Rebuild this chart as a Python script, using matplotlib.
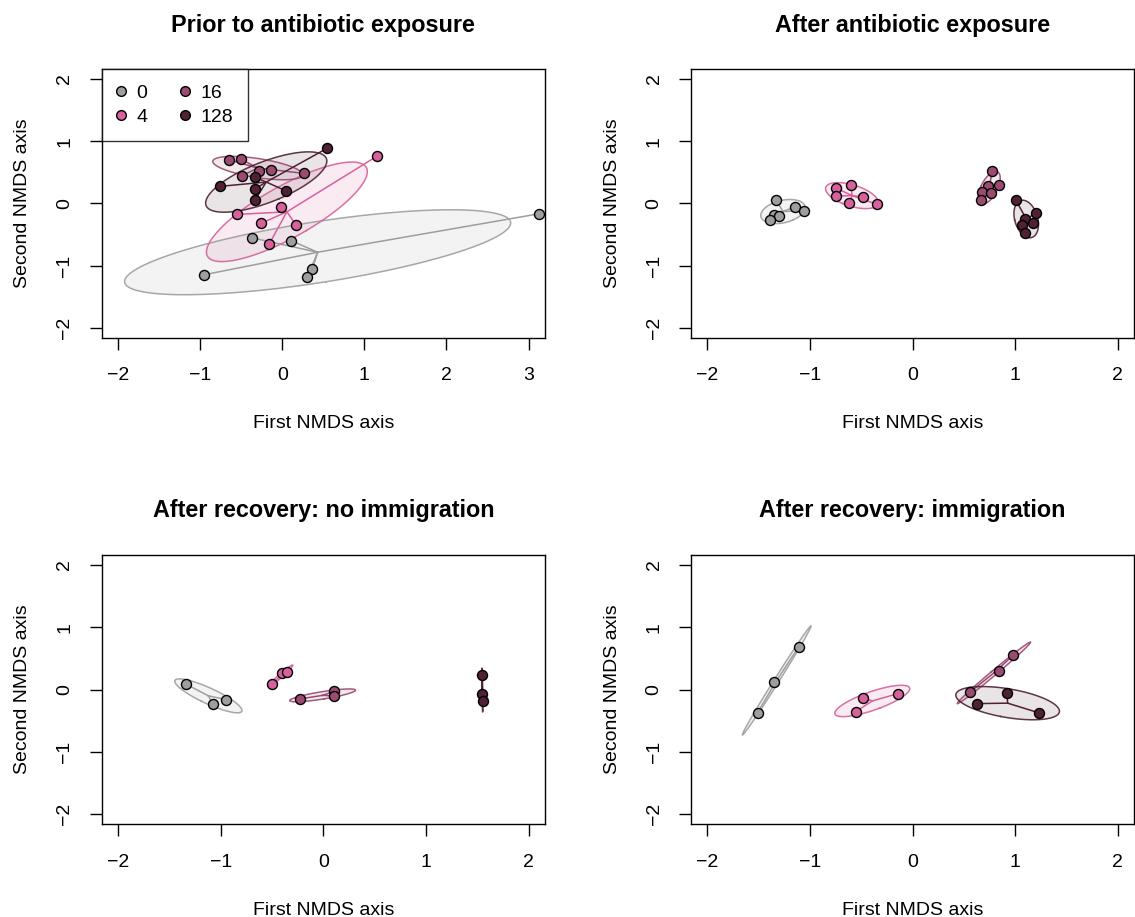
import numpy as np
import matplotlib
matplotlib.use('Agg')
import matplotlib.pyplot as plt
from matplotlib.lines import Line2D

plt.rcParams['font.family'] = ['Liberation Sans', 'DejaVu Sans']

groups = ['0', '4', '16', '128']
colors = ['#9e9e9e', '#d6619c', '#9b4a72', '#4e2134']

titles = ['Prior to antibiotic exposure', 'After antibiotic exposure',
          'After recovery: no immigration', 'After recovery: immigration']

# NMDS scores per group (0, 4, 16, 128)
prior_x = [[3.13, -0.954, -0.373, 0.11, 0.365, 0.305],
           [1.15, -0.012, -0.555, -0.256, 0.17, -0.162],
           [-0.646, -0.503, -0.49, -0.28, -0.138, 0.264],
           [0.544, -0.759, -0.336, -0.336, -0.336, 0.049]]
prior_y = [[-0.167, -1.148, -0.553, -0.60, -1.06, -1.19],
           [0.755, -0.065, -0.178, -0.32, -0.35, -0.66],
           [0.70, 0.712, 0.444, 0.524, 0.54, 0.482],
           [0.884, 0.273, 0.423, 0.23, 0.048, 0.198]]

after_x = [[-1.328, -1.15, -1.058, -1.351, -1.302, -1.39],
           [-0.744, -0.597, -0.75, -0.487, -0.617, -0.347],
           [0.777, 0.845, 0.741, 0.682, 0.77, 0.672],
           [1.01, 1.206, 1.095, 1.176, 1.066, 1.10]]
after_y = [[0.053, -0.06, -0.119, -0.183, -0.209, -0.273],
           [0.246, 0.294, 0.117, 0.106, 0.0, -0.016],
           [0.519, 0.30, 0.278, 0.182, 0.17, 0.053],
           [0.048, -0.156, -0.252, -0.322, -0.349, -0.478]]

noimm_x = [[-1.335, -0.948, -1.078],
           [-0.5, -0.4, -0.357],
           [-0.23, 0.107, 0.101],
           [1.547, 1.547, 1.553]]
noimm_y = [[0.086, -0.16, -0.224],
           [0.096, 0.272, 0.288],
           [-0.149, -0.026, -0.1],
           [0.23, -0.074, -0.176]]

imm_x = [[-1.111, -1.351, -1.511],
         [-0.483, -0.142, -0.552],
         [0.981, 0.842, 0.559],
         [0.92, 0.628, 1.235]]
imm_y = [[0.683, 0.128, -0.368],
         [-0.128, -0.064, -0.352],
         [0.55, 0.299, -0.042],
         [-0.053, -0.224, -0.373]]

panels = [(prior_x, prior_y), (after_x, after_y), (noimm_x, noimm_y), (imm_x, imm_y)]

W, H = 1135, 917
# axes boxes in pixels: left, top, right, bottom
boxes = [(101.7, 69, 545, 337.7), (691, 69, 1134, 337.7),
         (101.7, 555, 545, 824.3), (691, 555, 1134, 824.3)]

scale = np.sqrt(-2 * np.log(1 - 0.75))  # sd ellipse, conf 0.75
t = np.linspace(0, 2 * np.pi, 300)


def draw_panel(ax, xs, ys):
    for x, y, c in zip(xs, ys, colors):
        x = np.asarray(x)
        y = np.asarray(y)
        cx, cy = x.mean(), y.mean()
        cov = np.cov(x, y)
        w, v = np.linalg.eigh(cov)
        w = np.clip(w, 0, None)
        circ = np.vstack([np.cos(t), np.sin(t)])
        e = v @ np.diag(np.sqrt(w)) @ circ * scale
        ax.fill(cx + e[0], cy + e[1], color=c, alpha=0.12, lw=0, zorder=1)
        ax.plot(cx + e[0], cy + e[1], color=c, lw=1.1, alpha=0.9, zorder=2)
        for xi, yi in zip(x, y):
            ax.plot([cx, xi], [cy, yi], color=c, lw=1.1, zorder=2)
    for x, y, c in zip(xs, ys, colors):
        ax.scatter(x, y, s=52, facecolor=c, edgecolor='black', linewidth=1.0, zorder=5)


fig = plt.figure(figsize=(W / 100, H / 100), dpi=100)

for i, ((xs, ys), title, box) in enumerate(zip(panels, titles, boxes)):
    l, tp, r, b = box
    ax = fig.add_axes([l / W, (H - b) / H, (r - l) / W, (b - tp) / H])
    draw_panel(ax, xs, ys)
    if i == 0:
        ax.set_xlim(-2.2, 3.2)
        ax.set_xticks([-2, -1, 0, 1, 2, 3])
    else:
        ax.set_xlim(-2.16, 2.16)
        ax.set_xticks([-2, -1, 0, 1, 2])
    ax.set_ylim(-2.16, 2.16)
    ax.set_yticks([-2, -1, 0, 1, 2])
    for s in ax.spines.values():
        s.set_linewidth(1.0)
    ax.tick_params(direction='out', length=8.4, width=1.0, labelsize=14)
    ax.tick_params(axis='x', pad=13)
    ax.tick_params(axis='y', pad=12)
    plt.setp(ax.get_yticklabels(), rotation=90, va='center')
    ax.set_xlabel('First NMDS axis', fontsize=14, labelpad=22)
    ax.set_ylabel('Second NMDS axis', fontsize=14, labelpad=18)
    ax.set_title(title, fontsize=16.8, fontweight='bold', pad=27)

    if i == 0:
        handles = [Line2D([], [], marker='o', linestyle='none', markersize=7,
                          markerfacecolor=c, markeredgecolor='black', markeredgewidth=1.0)
                   for c in colors]
        leg = ax.legend(handles, groups, ncol=2, loc='upper left', fontsize=14,
                        frameon=True, fancybox=False, edgecolor='black',
                        borderaxespad=0, handlelength=0.4, handletextpad=0.6,
                        columnspacing=1.7, labelspacing=0.3, borderpad=0.8)
        leg.get_frame().set_linewidth(1.0)
        leg.set_zorder(10)

fig.savefig('out.png', dpi=100)
